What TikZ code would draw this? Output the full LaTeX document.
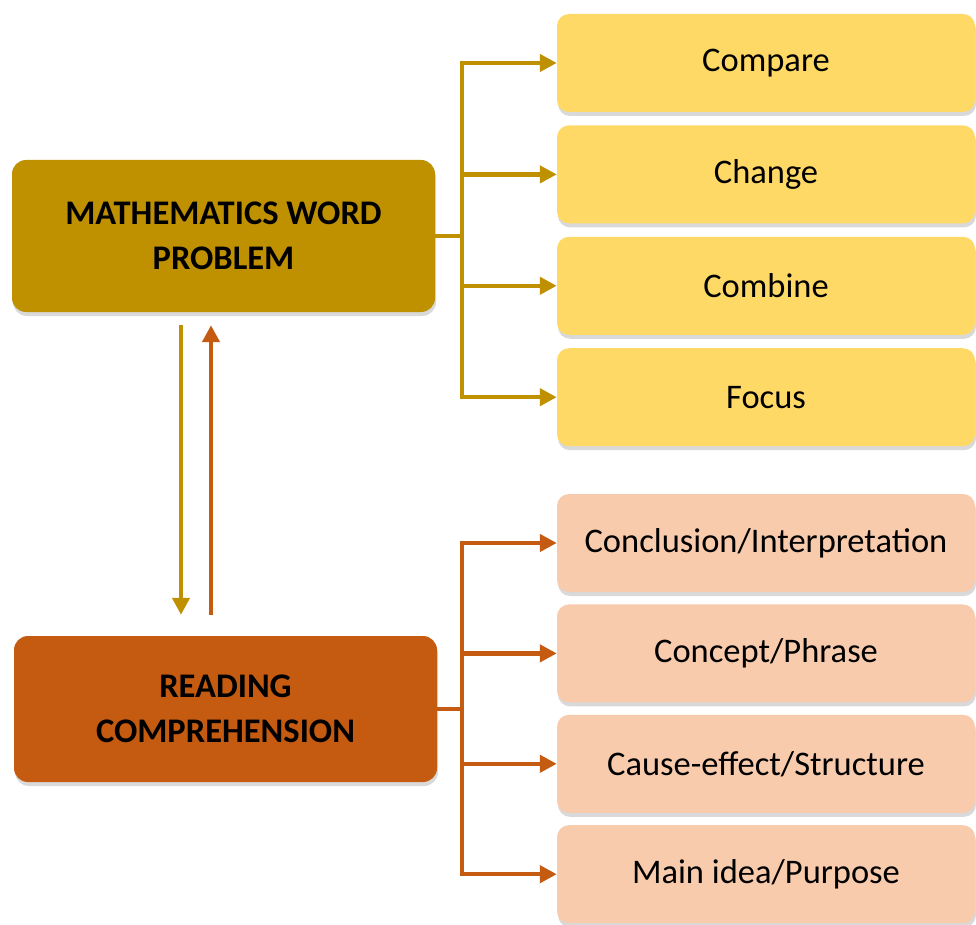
\documentclass[tikz,border=0pt]{standalone}
\usepackage{fontspec}
\setmainfont{Carlito}
\usetikzlibrary{positioning,shadows,arrows.meta}
\definecolor{mathgold}{HTML}{BF9000}
\definecolor{readrust}{HTML}{C55A11}
\definecolor{subyellow}{HTML}{FFD966}
\definecolor{subpeach}{HTML}{F8CBAD}
\tikzset{%
  mainbox/.style={%
    rounded corners=14pt,
    minimum width=423pt,
    align=center,
    font=\fontsize{34.5}{45}\selectfont\bfseries,
    drop shadow={shadow xshift=1pt,shadow yshift=-4pt,opacity=0.3}
  },
  subbox/.style={%
    rounded corners=12pt,
    minimum width=418pt,
    minimum height=98pt,
    font=\fontsize{34.5}{40}\selectfont,
    drop shadow={shadow xshift=1pt,shadow yshift=-4pt,opacity=0.3}
  },
  ptr/.style={%
    -{Triangle[length=17pt,width=17pt]},
    line width=4.5pt
  },
  trunk/.style={%
    line width=4.5pt
  }
}

\begin{document}
\begin{tikzpicture}[x=1pt,y=-1pt]
    \useasboundingbox (0,0) rectangle (976,925);

    \node[mainbox,fill=mathgold,minimum height=152pt] (math) at (223.5,236)
        {MATHEMATICS WORD\\PROBLEM};
    \node[mainbox,fill=readrust,minimum height=146pt] (read) at (225.5,709)
        {READING\\COMPREHENSION};

    \node[subbox,fill=subyellow] (cmp) at (766,63) {Compare};
    \node[subbox,fill=subyellow,below=13pt of cmp] (chg) {Change};
    \node[subbox,fill=subyellow,below=13pt of chg] (cmb) {Combine};
    \node[subbox,fill=subyellow,below=13pt of cmb] (foc) {Focus};

    \node[subbox,fill=subpeach] (ccl) at (766,543) {Conclusion/Interpretation};
    \node[subbox,fill=subpeach,below=12pt of ccl] (cpt) {Concept/Phrase};
    \node[subbox,fill=subpeach,below=12pt of cpt] (cse) {Cause-effect/Structure};
    \node[subbox,fill=subpeach,below=12pt of cse] (mid) {Main idea/Purpose};

    % math branches
    \coordinate (mt) at (462,236);
    \draw[trunk,mathgold] (math.east) -- (mt);
    \draw[trunk,mathgold] ([yshift=2pt]mt |- cmp.west) -- ([yshift=-2pt]mt |- foc.west);
    \foreach \b in {cmp,chg,cmb,foc}
      \draw[ptr,mathgold] (mt |- \b.west) -- (\b.west);

    % reading branches
    \coordinate (rt) at (462,709);
    \draw[trunk,readrust] (read.east) -- (rt);
    \draw[trunk,readrust] ([yshift=2pt]rt |- ccl.west) -- ([yshift=-2pt]rt |- mid.west);
    \foreach \b in {ccl,cpt,cse,mid}
      \draw[ptr,readrust] (rt |- \b.west) -- (\b.west);

    \draw[ptr,mathgold] ([xshift=-42.5pt,yshift=-13pt]math.south)
        -- ([xshift=-44.5pt,yshift=21pt]read.north);
    \draw[ptr,readrust] ([xshift=-14.5pt,yshift=21pt]read.north)
        -- ([xshift=-12.5pt,yshift=-13pt]math.south);
\end{tikzpicture}
\end{document}
